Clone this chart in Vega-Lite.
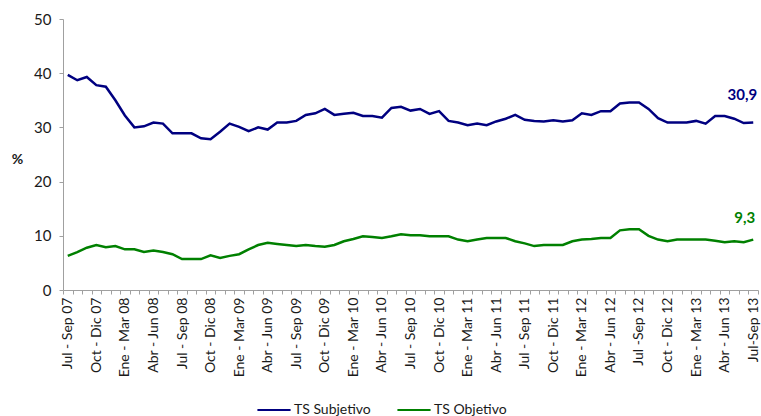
{
  "$schema": "https://vega.github.io/schema/vega-lite/v6.json",
  "width": 695,
  "height": 271,
  "autosize": {"type": "none"},
  "padding": {"left": 63, "top": 19, "right": 3, "bottom": 126},
  "background": "white",
  "config": {
    "view": {"stroke": null},
    "font": "Lato",
    "locale": {"number": {"decimal": ",", "thousands": ".", "grouping": [3], "currency": ["", " €"]}}
  },
  "data": {
    "values": [
      {"p": "Jul - Sep 07", "sub": 39.7, "obj": 6.3},
      {"p": "Ago - Oct 07", "sub": 38.7, "obj": 7.0},
      {"p": "Sep - Nov 07", "sub": 39.3, "obj": 7.8},
      {"p": "Oct - Dic 07", "sub": 37.8, "obj": 8.3},
      {"p": "Nov - Ene 08", "sub": 37.5, "obj": 7.9},
      {"p": "Dic - Feb 08", "sub": 35.0, "obj": 8.1},
      {"p": "Ene - Mar 08", "sub": 32.2, "obj": 7.5},
      {"p": "Feb - Abr 08", "sub": 30.0, "obj": 7.5},
      {"p": "Mar - May 08", "sub": 30.2, "obj": 7.0},
      {"p": "Abr - Jun 08", "sub": 30.9, "obj": 7.3},
      {"p": "May - Jul 08", "sub": 30.7, "obj": 7.0},
      {"p": "Jun - Ago 08", "sub": 28.9, "obj": 6.6},
      {"p": "Jul - Sep 08", "sub": 28.9, "obj": 5.7},
      {"p": "Ago - Oct 08", "sub": 28.9, "obj": 5.7},
      {"p": "Sep - Nov 08", "sub": 28.0, "obj": 5.7},
      {"p": "Oct - Dic 08", "sub": 27.8, "obj": 6.4},
      {"p": "Nov - Ene 09", "sub": 29.2, "obj": 5.9},
      {"p": "Dic - Feb 09", "sub": 30.7, "obj": 6.3},
      {"p": "Ene - Mar 09", "sub": 30.1, "obj": 6.6},
      {"p": "Feb - Abr 09", "sub": 29.3, "obj": 7.5},
      {"p": "Mar - May 09", "sub": 30.0, "obj": 8.3},
      {"p": "Abr - Jun 09", "sub": 29.6, "obj": 8.7},
      {"p": "May - Jul 09", "sub": 30.9, "obj": 8.5},
      {"p": "Jun - Ago 09", "sub": 30.9, "obj": 8.3},
      {"p": "Jul - Sep 09", "sub": 31.2, "obj": 8.1},
      {"p": "Ago - Oct 09", "sub": 32.3, "obj": 8.3},
      {"p": "Sep - Nov 09", "sub": 32.6, "obj": 8.1},
      {"p": "Oct - Dic 09", "sub": 33.4, "obj": 8.0},
      {"p": "Nov - Ene 10", "sub": 32.3, "obj": 8.3},
      {"p": "Dic - Feb 10", "sub": 32.5, "obj": 9.0},
      {"p": "Ene - Mar 10", "sub": 32.7, "obj": 9.4},
      {"p": "Feb - Abr 10", "sub": 32.1, "obj": 9.9},
      {"p": "Mar - May 10", "sub": 32.1, "obj": 9.8},
      {"p": "Abr - Jun 10", "sub": 31.8, "obj": 9.6},
      {"p": "May - Jul 10", "sub": 33.6, "obj": 9.9},
      {"p": "Jun - Ago 10", "sub": 33.8, "obj": 10.3},
      {"p": "Jul - Sep 10", "sub": 33.1, "obj": 10.1},
      {"p": "Ago - Oct 10", "sub": 33.4, "obj": 10.1},
      {"p": "Sep - Nov 10", "sub": 32.5, "obj": 9.9},
      {"p": "Oct - Dic 10", "sub": 33.0, "obj": 9.9},
      {"p": "Nov - Ene 11", "sub": 31.2, "obj": 9.9},
      {"p": "Dic - Feb 11", "sub": 30.9, "obj": 9.3},
      {"p": "Ene - Mar 11", "sub": 30.4, "obj": 9.0},
      {"p": "Feb - Abr 11", "sub": 30.7, "obj": 9.3},
      {"p": "Mar - May 11", "sub": 30.4, "obj": 9.6},
      {"p": "Abr - Jun 11", "sub": 31.1, "obj": 9.6},
      {"p": "May - Jul 11", "sub": 31.6, "obj": 9.6},
      {"p": "Jun - Ago 11", "sub": 32.3, "obj": 9.0},
      {"p": "Jul - Sep 11", "sub": 31.4, "obj": 8.6},
      {"p": "Ago - Oct 11", "sub": 31.2, "obj": 8.1},
      {"p": "Sep - Nov 11", "sub": 31.1, "obj": 8.3},
      {"p": "Oct - Dic 11", "sub": 31.3, "obj": 8.3},
      {"p": "Nov - Ene 12", "sub": 31.1, "obj": 8.3},
      {"p": "Dic - Feb 12", "sub": 31.3, "obj": 9.0},
      {"p": "Ene - Mar 12", "sub": 32.6, "obj": 9.3},
      {"p": "Feb - Abr 12", "sub": 32.3, "obj": 9.4},
      {"p": "Mar - May 12", "sub": 33.0, "obj": 9.6},
      {"p": "Abr - Jun 12", "sub": 33.0, "obj": 9.6},
      {"p": "May - Jul 12", "sub": 34.4, "obj": 11.0},
      {"p": "Jun - Ago 12", "sub": 34.6, "obj": 11.2},
      {"p": "Jul -Sep 12", "sub": 34.6, "obj": 11.2},
      {"p": "Ago - Oct 12", "sub": 33.4, "obj": 10.0},
      {"p": "Sep - Nov 12", "sub": 31.7, "obj": 9.3},
      {"p": "Oct - Dic 12", "sub": 30.9, "obj": 9.0},
      {"p": "Nov - Ene 13", "sub": 30.9, "obj": 9.3},
      {"p": "Dic - Feb 13", "sub": 30.9, "obj": 9.3},
      {"p": "Ene - Mar 13", "sub": 31.2, "obj": 9.3},
      {"p": "Feb - Abr 13", "sub": 30.7, "obj": 9.3},
      {"p": "Mar - May 13", "sub": 32.1, "obj": 9.1},
      {"p": "Abr - Jun 13", "sub": 32.1, "obj": 8.8},
      {"p": "May - Jul 13", "sub": 31.6, "obj": 9.0},
      {"p": "Jun - Ago 13", "sub": 30.8, "obj": 8.8},
      {"p": "Jul-Sep 13", "sub": 30.9, "obj": 9.3}
    ]
  },
  "transform": [
    {"fold": ["sub", "obj"], "as": ["key", "v"]},
    {"calculate": "datum.key === 'sub' ? 'TS Subjetivo' : 'TS Objetivo'", "as": "serie"}
  ],
  "encoding": {
    "x": {
      "field": "p",
      "type": "ordinal",
      "sort": null,
      "bandPosition": 0.5,
      "scale": {"type": "band", "paddingInner": 0, "paddingOuter": 0},
      "axis": {
        "title": null,
        "tickBand": "extent",
        "labelAngle": 270,
        "labelOverlap": false,
        "labelExpr": "test(/^(Jul|Oct|Ene|Abr)/, datum.value) ? datum.value : ''",
        "labelFontSize": 14,
        "labelColor": "#1a1a1a",
        "labelPadding": 3,
        "tickSize": 4,
        "tickColor": "#a0a0a0",
        "domainColor": "#a0a0a0",
        "grid": false
      }
    },
    "y": {
      "field": "v",
      "type": "quantitative",
      "scale": {"domain": [0, 50]},
      "axis": {
        "values": [0, 10, 20, 30, 40, 50],
        "title": "%",
        "titleAngle": 0,
        "titleX": -46,
        "titleY": 140,
        "titleAlign": "center",
        "titleBaseline": "middle",
        "titleFontSize": 14,
        "titleFontWeight": "bold",
        "titleColor": "#1a1a1a",
        "labelFontSize": 15,
        "labelColor": "#1a1a1a",
        "labelPadding": 8,
        "tickSize": 4,
        "tickColor": "#a0a0a0",
        "domainColor": "#a0a0a0",
        "grid": false
      }
    }
  },
  "layer": [
    {
      "mark": {"type": "line", "strokeWidth": 2.5},
      "encoding": {
        "color": {
          "field": "serie",
          "type": "nominal",
          "scale": {"domain": ["TS Subjetivo", "TS Objetivo"], "range": ["#000080", "#008000"]},
          "legend": {
            "title": null,
            "orient": "none",
            "direction": "horizontal",
            "legendX": 193,
            "legendY": 373,
            "symbolType": "stroke",
            "symbolSize": 1100,
            "symbolStrokeWidth": 2,
            "labelFontSize": 14,
            "labelColor": "#1a1a1a",
            "columnPadding": 22,
            "labelOffset": 2
          }
        }
      }
    },
    {
      "transform": [{"filter": "datum.p === 'Jul-Sep 13' && datum.key === 'sub'"}],
      "mark": {"type": "text", "align": "right", "baseline": "bottom", "dx": 4, "dy": -20, "fontSize": 15, "fontWeight": "bold", "color": "#000080"},
      "encoding": {"text": {"field": "v", "type": "quantitative", "format": ".1f"}}
    },
    {
      "transform": [{"filter": "datum.p === 'Jul-Sep 13' && datum.key === 'obj'"}],
      "mark": {"type": "text", "align": "right", "baseline": "bottom", "dx": 2, "dy": -14, "fontSize": 15, "fontWeight": "bold", "color": "#008000"},
      "encoding": {"text": {"field": "v", "type": "quantitative", "format": ".1f"}}
    }
  ]
}
